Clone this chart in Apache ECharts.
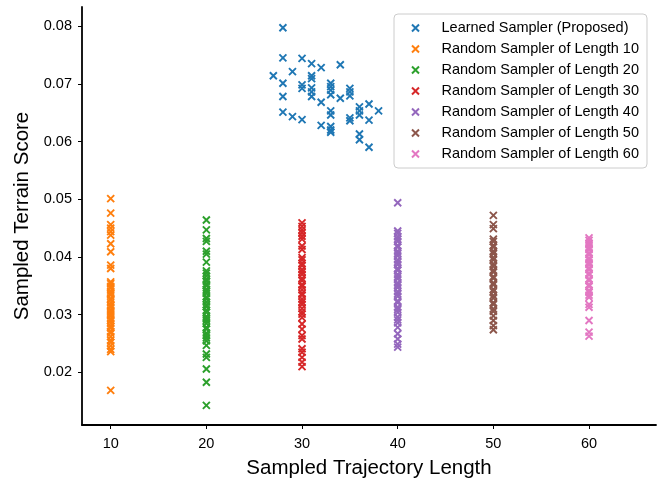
<!DOCTYPE html>
<html>
<head>
<meta charset="utf-8">
<script src="https://cdn.jsdelivr.net/npm/echarts@6/dist/echarts.min.js"></script>
<style>
  html, body { margin: 0; padding: 0; background: #fff; }
  #chart { width: 665px; height: 480px; }
</style>
</head>
<body>
<div id="chart"></div>
<script>
// learned sampler: trajectory length and terrain score
const learnedX = [28, 28, 30, 31, 32, 34, 27, 29, 28, 31, 31, 30, 30, 31, 31, 31, 33, 33, 33, 33, 35, 35, 35, 34,
  28, 32, 28, 29, 30, 33, 33, 35, 35, 32, 33, 33, 33, 36, 36, 36, 37, 38, 37, 36, 36, 37];
const learnedY = [0.0797, 0.0745, 0.0744, 0.0735, 0.0728, 0.0733, 0.0714, 0.0721, 0.0701, 0.0714, 0.0709, 0.0698,
  0.0692, 0.0693, 0.0686, 0.0678, 0.0701, 0.0695, 0.0689, 0.0681, 0.0692, 0.0686, 0.0679, 0.0675,
  0.0678, 0.0668, 0.0651, 0.0643, 0.0638, 0.0653, 0.0646, 0.0641, 0.0636, 0.0628, 0.0626, 0.0620,
  0.0616, 0.0660, 0.0653, 0.0646, 0.0665, 0.0653, 0.0637, 0.0613, 0.0603, 0.0590];

// random samplers, one list per length
const randomLengths = [10, 20, 30, 40, 50, 60];
const random10 = [0.0501, 0.0476, 0.0456, 0.0450, 0.0444, 0.0438, 0.0423, 0.0409, 0.0386, 0.0380, 0.0357, 0.0354,
  0.0349, 0.0346, 0.0341, 0.0337, 0.0334, 0.0328, 0.0326, 0.0321, 0.0316, 0.0313, 0.0308, 0.0305, 0.0301,
  0.0298, 0.0293, 0.0290, 0.0285, 0.0280, 0.0277, 0.0271, 0.0268, 0.0262, 0.0256, 0.0252, 0.0246, 0.0240,
  0.0236, 0.0169];
const random20 = [0.0464, 0.0447, 0.0432, 0.0427, 0.0410, 0.0405, 0.0391, 0.0376, 0.0372, 0.0367, 0.0361, 0.0358,
  0.0353, 0.0350, 0.0344, 0.0341, 0.0337, 0.0331, 0.0328, 0.0322, 0.0317, 0.0314, 0.0308, 0.0304, 0.0297,
  0.0293, 0.0290, 0.0285, 0.0278, 0.0275, 0.0268, 0.0264, 0.0260, 0.0255, 0.0247, 0.0232, 0.0226, 0.0206,
  0.0183, 0.0143];
const random30 = [0.0459, 0.0453, 0.0447, 0.0442, 0.0436, 0.0431, 0.0419, 0.0413, 0.0399, 0.0395, 0.0389, 0.0385,
  0.0378, 0.0374, 0.0370, 0.0363, 0.0359, 0.0352, 0.0349, 0.0343, 0.0337, 0.0334, 0.0327, 0.0322, 0.0318,
  0.0311, 0.0305, 0.0301, 0.0295, 0.0284, 0.0275, 0.0264, 0.0258, 0.0241, 0.0235, 0.0226, 0.0218, 0.0210];
const random40 = [0.0494, 0.0445, 0.0441, 0.0435, 0.0431, 0.0427, 0.0420, 0.0417, 0.0410, 0.0406, 0.0402, 0.0395,
  0.0391, 0.0387, 0.0380, 0.0377, 0.0370, 0.0366, 0.0362, 0.0355, 0.0351, 0.0347, 0.0340, 0.0336, 0.0332,
  0.0324, 0.0321, 0.0313, 0.0309, 0.0304, 0.0296, 0.0291, 0.0286, 0.0278, 0.0267, 0.0258, 0.0249, 0.0244];
const random50 = [0.0472, 0.0456, 0.0449, 0.0431, 0.0427, 0.0420, 0.0417, 0.0410, 0.0406, 0.0399, 0.0395, 0.0388,
  0.0384, 0.0377, 0.0374, 0.0366, 0.0363, 0.0355, 0.0352, 0.0344, 0.0340, 0.0333, 0.0329, 0.0321, 0.0318,
  0.0310, 0.0306, 0.0298, 0.0290, 0.0281, 0.0274];
const random60 = [0.0433, 0.0429, 0.0424, 0.0421, 0.0416, 0.0413, 0.0407, 0.0404, 0.0398, 0.0395, 0.0390, 0.0387,
  0.0381, 0.0378, 0.0372, 0.0369, 0.0362, 0.0359, 0.0352, 0.0349, 0.0342, 0.0339, 0.0334, 0.0330, 0.0318,
  0.0313, 0.0290, 0.0270, 0.0263];
const randomScores = [random10, random20, random30, random40, random50, random60];

const xTicks = [10, 20, 30, 40, 50, 60];
const yTicks = [0.02, 0.03, 0.04, 0.05, 0.06, 0.07, 0.08];

const colors = ['#1f77b4', '#ff7f0e', '#2ca02c', '#d62728', '#9467bd', '#8c564b', '#e377c2'];
const font = "'Liberation Sans', Arial, sans-serif";
const cross = 'path://M0,0L10,10M10,0L0,10';

const makeSeries = (name, data, color) => ({
  name,
  type: 'scatter',
  data,
  symbol: cross,
  symbolSize: 7,
  itemStyle: { color, borderColor: color, borderWidth: 1.9, opacity: 1 },
  emphasis: { disabled: true }
});

const series = [makeSeries('Learned Sampler (Proposed)', learnedX.map((x, i) => [x, learnedY[i]]), colors[0])];
randomLengths.forEach((len, k) => {
  series.push(makeSeries('Random Sampler of Length ' + len,
    randomScores[k].map(v => [len, v]), colors[k + 1]));
});

const chart = echarts.init(document.getElementById('chart'), null, { renderer: 'canvas' });
chart.setOption({
  animation: false,
  textStyle: { fontFamily: font, color: '#000' },
  grid: { left: 82, right: 9, top: 7, bottom: 55, containLabel: false, outerBoundsMode: 'none' },
  xAxis: {
    type: 'value',
    min: 7,
    max: 67,
    name: 'Sampled Trajectory Length',
    nameLocation: 'middle',
    nameGap: 33,
    nameTextStyle: { fontSize: 20.5, color: '#000', fontFamily: font },
    axisLine: { show: true, lineStyle: { color: '#000', width: 1.8 } },
    axisTick: { show: true, inside: false, length: 4, customValues: xTicks, lineStyle: { color: '#000', width: 1 } },
    axisLabel: { customValues: xTicks, fontSize: 14.5, color: '#000', margin: 11, fontFamily: font },
    splitLine: { show: false }
  },
  yAxis: {
    type: 'value',
    min: 0.0109,
    max: 0.0833,
    name: 'Sampled Terrain Score',
    nameLocation: 'middle',
    nameGap: 46,
    nameTextStyle: { fontSize: 20.5, color: '#000', fontFamily: font },
    axisLine: { show: true, lineStyle: { color: '#000', width: 1.8 } },
    axisTick: { show: true, inside: false, length: 4, customValues: yTicks, lineStyle: { color: '#000', width: 1 } },
    axisLabel: { customValues: yTicks, fontSize: 14.5, color: '#000', margin: 10, fontFamily: font,
      formatter: v => v.toFixed(2) },
    splitLine: { show: false }
  },
  legend: {
    orient: 'vertical',
    left: 394,
    top: 14,
    padding: [6, 8, 6, 17],
    itemWidth: 42,
    itemHeight: 7,
    itemGap: 5,
    symbolKeepAspect: true,
    backgroundColor: '#fff',
    borderColor: '#cccccc',
    borderWidth: 1,
    borderRadius: 4,
    textStyle: { fontSize: 14.5, color: '#000', fontFamily: font, lineHeight: 16 },
    data: series.map(s => s.name)
  },
  series
});
</script>
</body>
</html>
